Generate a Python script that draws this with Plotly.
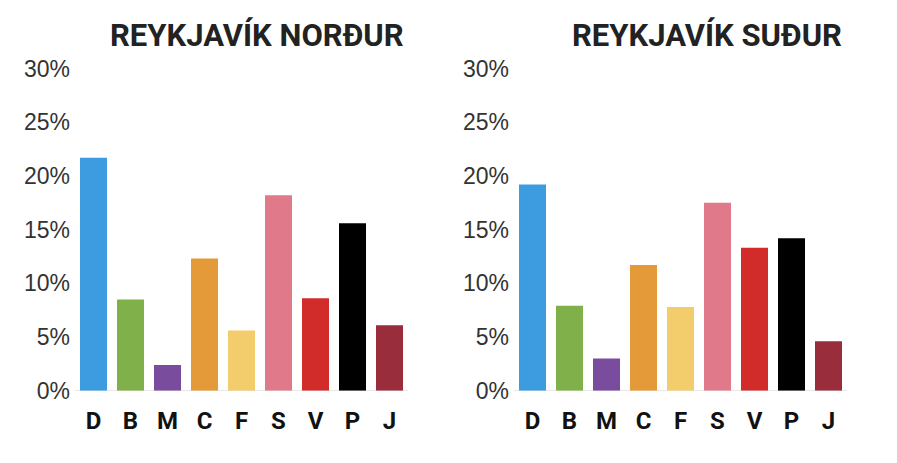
import plotly.graph_objects as go

parties = ["D", "B", "M", "C", "F", "S", "V", "P", "J"]
nordur = [21.7, 8.5, 2.4, 12.3, 5.6, 18.2, 8.6, 15.6, 6.1]
sudur = [19.2, 7.9, 3.0, 11.7, 7.8, 17.5, 13.3, 14.2, 4.6]
colors = ["#3d9be0", "#80b04a", "#7a4c9e", "#e49a38", "#f3cc6b",
          "#e07a8a", "#d12c2a", "#000000", "#9a2d3b"]
titles = ["REYKJAVÍK NORÐUR", "REYKJAVÍK SUÐUR"]
yticks = [0, 5, 10, 15, 20, 25, 30]
yticklabels = ["0%", "5%", "10%", "15%", "20%", "25%", "30%"]

W, H = 897, 463
OFF = 8  # page body margin


def px(x):
    return (x - OFF) / W


def py(y):
    return (H - (y - OFF)) / H


fig = go.Figure()
fig.add_trace(go.Bar(x=parties, y=nordur, marker_color=colors, marker_line_width=0,
                     xaxis="x", yaxis="y", showlegend=False))
fig.add_trace(go.Bar(x=parties, y=sudur, marker_color=colors, marker_line_width=0,
                     xaxis="x2", yaxis="y2", showlegend=False))

ydom = [py(390.7), py(68.5)]
xdom1 = [px(75), px(408)]
xdom2 = [px(514), px(847)]

xax = dict(type="category", showgrid=False, zeroline=False, showline=False,
           ticks="", ticklabelstandoff=13, automargin=False,
           tickfont=dict(family="Roboto", size=24, color="#111111", weight="bold"))
yax = dict(range=[0, 30], tickmode="array", tickvals=yticks, ticktext=yticklabels,
           showgrid=False, automargin=False,
           zeroline=True, zerolinecolor="#e8e8e8", zerolinewidth=1, showline=False,
           ticks="", ticklabelstandoff=4,
           tickfont=dict(family="Liberation Sans", size=23, color="#333333"))

fig.update_layout(
    width=W, height=H, margin=dict(l=0, r=0, t=0, b=0, autoexpand=False),
    paper_bgcolor="white", plot_bgcolor="white", bargap=0.27,
    xaxis=dict(domain=xdom1, anchor="y", **xax),
    xaxis2=dict(domain=xdom2, anchor="y2", **xax),
    yaxis=dict(domain=ydom, anchor="x", **yax),
    yaxis2=dict(domain=ydom, anchor="x2", **yax),
)

for t, cx in zip(titles, [257, 707]):
    fig.add_annotation(text="<b>" + t + "</b>", x=px(cx), y=py(35),
                       xref="paper", yref="paper",
                       showarrow=False, xanchor="center", yanchor="middle",
                       font=dict(family="Roboto", size=31, color="#222222"))

fig.write_html("out.html")
